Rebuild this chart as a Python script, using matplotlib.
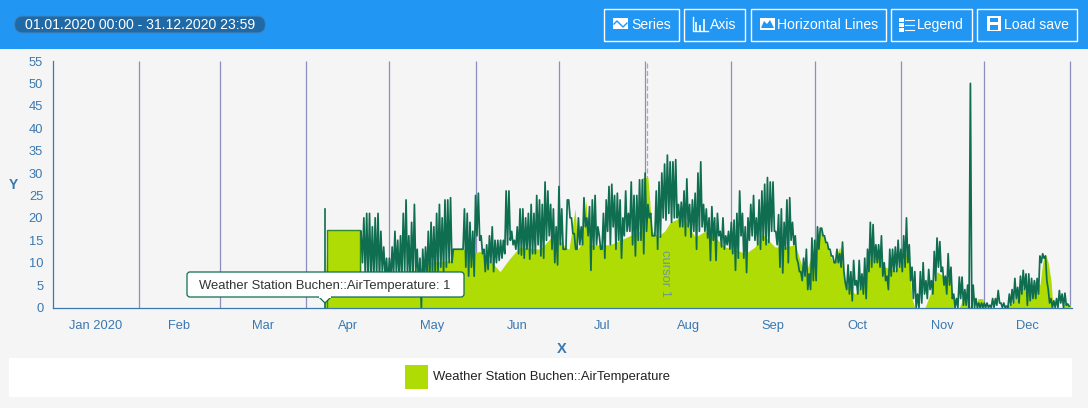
import numpy as np
import matplotlib
matplotlib.use("Agg")
import matplotlib.pyplot as plt
from matplotlib.patches import FancyBboxPatch, Rectangle, Polygon

plt.rcParams["font.family"] = ["Liberation Sans", "DejaVu Sans"]

# =============================
# DATA
# =============================
month_names = ["Jan 2020", "Feb", "Mar", "Apr", "May", "Jun", "Jul", "Aug", "Sep", "Oct", "Nov", "Dec"]
month_days = [31, 29, 31, 30, 31, 30, 31, 31, 30, 31, 30, 31]
y_ticks = [0, 5, 10, 15, 20, 25, 30, 35, 40, 45, 50, 55]

# first readings of the station: one spike, then a flat stretch
spike_days = [97.8, 97.8]
spike_vals = [0, 22]
flat_days = [98.4, 98.4, 110.4, 110.4]
flat_vals = [0, 17.2, 17.2, 8]

# highs and lows per day, month by month (April starts on the 21st)
apr_start = 110.8
apr_hi = [17, 20, 21, 21, 18, 20, 21, 17, 13.5, 11]
apr_lo = [10, 7, 6, 7, 6, 7, 6, 8, 7, 5]
may_hi = [11, 13.5, 17, 15, 16, 21, 24, 16, 19, 23, 13, 11, 13, 13.5, 17, 19, 18, 21, 23, 20, 24, 24, 24.5, 13, 13, 13, 13, 22, 21, 19, 17]
may_lo = [6, 7, 8, 6, 7, 8, 7, 6, 7, 8, 5, 0, 6, 7, 6, 8, 7, 8, 9, 8, 9, 10, 10, 13, 13, 13, 13, 9, 7, 9, 7]
jun_hi = [25, 25.5, 16, 13, 14, 16, 18, 15, 15, 15, 15, 26, 26, 17, 15, 18, 22, 22, 20, 21, 23, 21, 25, 24, 23, 28, 26, 23, 22, 18]
jun_lo = [16, 15, 12, 8, 8.5, 10, 8, 10, 10.5, 11, 12, 14, 15, 14, 13, 12, 11.7, 11, 13, 10.8, 12, 12, 14, 11.5, 11, 15, 16, 13, 10, 9.5]
jul_hi = [27, 22, 13, 24, 20, 16.5, 13, 20, 18, 24.5, 20, 22.5, 24, 25, 18, 13, 21, 24, 27, 27.5, 25, 25.5, 24, 20, 26, 21, 28, 25, 25, 28.5, 28.5]
jul_lo = [14, 13, 13, 24, 20, 16.5, 13, 14, 14, 18, 16, 8.3, 13, 14, 16, 13, 11, 17, 14, 18, 13, 15, 11, 16, 17, 17, 14, 11.5, 15, 15, 12]
aug_hi = [30, 23, 21, 16, 26, 28, 30, 32, 34, 32.5, 32.5, 33, 23, 23.5, 26, 28.7, 23, 24, 25.5, 30, 32.5, 23, 22, 20, 22.5, 20, 21, 17, 20, 16, 17]
aug_lo = [17, 20, 16, 16, 13, 15.7, 20, 19.5, 21, 19, 20, 20, 18, 18, 16, 18, 15.7, 17, 13, 17, 18, 17, 15.5, 10.5, 15, 10.5, 16, 13.5, 13, 14, 13]
sep_hi = [19, 19.5, 21, 26, 21, 18, 20, 23, 25, 20, 24, 26, 27.5, 29, 28, 28, 17, 20.7, 22, 19, 24, 24.5, 19, 16, 10, 8, 11, 13, 7.5, 15.5]
sep_lo = [12, 8.3, 11, 16, 11, 7.8, 15, 16, 15, 14, 13, 15, 14, 14.5, 17, 17, 14, 9, 7.7, 13, 10, 15, 14, 11, 8, 6, 7, 4, 4, 6]
oct_hi = [15, 18, 17.7, 16, 14.5, 13, 11.5, 10, 13, 12, 14.6, 5.5, 9.5, 8, 10.5, 6, 10.5, 7.5, 11, 13, 19, 18.5, 14, 14, 16, 10, 7, 13, 13, 13.5, 15]
oct_lo = [6, 13, 17.7, 16, 14.5, 13, 11.5, 10, 10, 9, 8, 4, 3, 1.5, 5, 3, 4, 3, 2, 8, 9, 10, 10, 9, 7, 6, 4, 7, 8, 8, 9]
nov_hi = [13, 16, 20, 14, 9, 8, 3, 8, 10, 6, 8.5, 6, 12.5, 15.5, 14.7, 9, 7, 12, 9, 3, 2, 6.8, 6.8, 4, 5, 50, 5, 2, 1, 1]
nov_lo = [8, 9, 10, 6, 2, 0, 0, 1, 3, 2, 4, 3, 6, 9, 8, 5, 3, 5, 2, 0, 0, 2, 0.5, 0.5, 0, 0, 0, 0, 0, 0]
dec_hi = [1, 1, 0.5, 2, 2, 3.8, 1, 1, 0.3, 3, 4, 6.5, 4.5, 7, 8.3, 7.5, 7.5, 6.5, 6, 6.5, 11.5, 12, 11.5, 4, 2, 1.5, 2, 3.8, 3, 3.2, 0.8]
dec_lo = [0, 0, 0, 0, 0.5, 1, 0, 0, 0, 0.5, 1, 2, 1, 3, 4, 0.5, 1.5, 2, 2, 3, 10, 11, 6, 1, 0, 0, 0, 1, 0, 0.5, 0.3]

# top of the filled area
fill_days = [97.8, 98.6, 110.4, 110.8, 119.4, 121.2, 124.8, 132, 133.8, 142.8, 143.5, 148.6, 150, 153.6, 157.2,
             160.8, 164.4, 168, 175.2, 180.6, 184.2, 185.6, 187.8, 188.8, 190.6, 191.7, 192.8, 200.4, 207.5, 211,
             212, 214, 215.5, 217.6, 220, 222, 225.5, 227.3, 231, 234.5, 238, 241.7, 245.3, 249, 252.5,
             255, 259.7, 263.3, 267, 270.5, 273, 276, 280.6, 283, 285, 288.5, 292, 295, 299.3, 303,
             306.5, 307.5, 309, 310, 313.7, 315.5, 318, 322.7, 324.5, 326, 328, 330, 332, 332.7, 334.5,
             335, 342.4, 345, 346, 348.6, 351.4, 353, 355, 356, 357, 358, 359, 359.7, 363, 364, 366]
fill_vals = [0, 17.2, 17.2, 8, 8, 7, 8, 8.5, 10, 10.5, 13, 13, 12, 12.5, 10.5,
             8, 11, 13.5, 13, 16.5, 13.5, 13, 22, 13, 15, 24, 14, 14, 16, 17,
             29, 29, 17, 16, 17, 19, 20, 19.5, 15.7, 17, 15.7, 13.5, 13, 12, 13.5,
             16.5, 13.5, 13.5, 14, 7, 12, 17.7, 10, 13.5, 5.4, 3, 6, 13.5, 9, 8.3,
             11, 14, 2, 0, 0, 3, 8, 6, 0, 0, 3, 0, 0, 2, 2,
             0, 0, 1, 2, 4.5, 3, 6, 5, 10, 12, 10, 6, 0, 0, 1, 0.5]

HEADER = "#2196f3"
BG = "#f5f5f5"
BLUE = "#3a78b0"
LIME = "#aedc04"
DARK = "#0f6d50"
EDGE = "#2f8a2a"

# =============================
# CHART
# =============================
fig = plt.figure(figsize=(10.88, 4.08), dpi=100, facecolor=BG)
ax = fig.add_axes([53 / 1088, (408 - 307.5) / 408, (1072 - 53) / 1088, (307.5 - 61) / 408])
ax.set_facecolor("none")

month_ends = np.cumsum(month_days)
month_starts = month_ends - np.array(month_days)
month_mids = month_starts + np.array(month_days) / 2


def zigzag(start, end, hi, lo):
    # one high and one low per day
    days = np.linspace(start, end, len(hi), endpoint=False)
    step = (end - start) / len(hi)
    xs = np.column_stack([days, days + step / 2]).ravel()
    ys = np.column_stack([hi, lo]).ravel()
    return xs, ys


segments = [
    (apr_start, month_ends[3], apr_hi, apr_lo),
    (month_starts[4], month_ends[4], may_hi, may_lo),
    (month_starts[5], month_ends[5], jun_hi, jun_lo),
    (month_starts[6], month_ends[6], jul_hi, jul_lo),
    (month_starts[7], month_ends[7], aug_hi, aug_lo),
    (month_starts[8], month_ends[8], sep_hi, sep_lo),
    (month_starts[9], month_ends[9], oct_hi, oct_lo),
    (month_starts[10], month_ends[10], nov_hi, nov_lo),
    (month_starts[11], month_ends[11], dec_hi, dec_lo),
]
line_x = []
line_y = []
for seg in segments:
    sx, sy = zigzag(*seg)
    line_x.append(sx)
    line_y.append(sy)
line_x = np.concatenate(line_x)
line_y = np.concatenate(line_y)

ax.vlines(month_ends, 0, 55, color="#8a8fc0", lw=0.9, zorder=1)
ax.vlines(213.8, 0, 55, color="#a9a9c6", lw=0.9, linestyles=(0, (4, 2)), zorder=1)

ax.fill_between(fill_days, fill_vals, 0, color=LIME, lw=0, zorder=2)
ax.plot(spike_days, spike_vals, color=DARK, lw=1.2, zorder=4)
ax.plot(flat_days, flat_vals, color=EDGE, lw=1.0, zorder=4)
ax.plot(line_x, line_y, color=DARK, lw=1.25, zorder=4, solid_joinstyle="round")

ax.text(220.3, 7.6, "cursor 1", rotation=270, color="#6f9a8a", fontsize=9.4, ha="center", va="center", zorder=5)

ax.set_xlim(0, (1072 - 53) / 2.78)
ax.set_ylim(0, 55)
ax.set_xticks(month_mids)
ax.set_xticklabels(month_names, color=BLUE, fontsize=9.3)
ax.set_yticks(y_ticks)
ax.set_yticklabels(y_ticks, color=BLUE, fontsize=9.3)
ax.tick_params(axis="x", length=0, pad=9)
ax.tick_params(axis="y", length=0, pad=7)
for side in ["top", "right"]:
    ax.spines[side].set_visible(False)
for side in ["left", "bottom"]:
    ax.spines[side].set_color(BLUE)
    ax.spines[side].set_linewidth(0.9)

# =============================
# PAGE AROUND THE CHART (pixel coordinates)
# =============================
ui = fig.add_axes([0, 0, 1, 1], zorder=5)
ui.set_xlim(0, 1088)
ui.set_ylim(408, 0)
ui.axis("off")
ui.patch.set_visible(False)

ui.add_patch(Rectangle((0, 0), 1088, 49, color=HEADER, lw=0))
ui.add_patch(FancyBboxPatch((14.5, 16), 251, 17, boxstyle="round,pad=0,rounding_size=8.5",
                            fc="#1f69a6", ec="#3c86c4", lw=0.8))
ui.text(140, 25, "01.01.2020 00:00 - 31.12.2020 23:59", color="white", fontsize=10.1,
        ha="center", va="center")

buttons = [
    (604, 679, "Series", 631),
    (684, 745, "Axis", 710),
    (750.5, 886, "Horizontal Lines", 777),
    (891, 972, "Legend", 917),
    (977, 1077, "Load save", 1004),
]
for x0, x1, label, tx in buttons:
    ui.add_patch(Rectangle((x0, 8.5), x1 - x0, 32.5, fc="none", ec="white", lw=1))
    ui.text(tx, 25, label, color="white", fontsize=10.1, ha="left", va="center")

# button icons
ui.add_patch(Rectangle((613, 18), 15, 11, fc="white", ec="none"))
ui.plot([614, 617, 620, 623, 627], [24, 21, 24, 27, 23], color=HEADER, lw=1)
ui.plot([693, 693, 708], [17, 31, 31], color="white", lw=1)
ui.vlines([696, 700, 704], [22, 25, 19], [31, 31, 31], color="white", lw=1.2)
ui.add_patch(Rectangle((760, 18), 15, 12, fc="white", ec="none"))
ui.add_patch(Polygon([(761, 28), (764, 21), (767, 24), (770, 20), (774, 28)], fc=HEADER, ec="none"))
for yy in [18, 23, 28]:
    ui.add_patch(Rectangle((899, yy), 5, 3.5, fc="white", ec="none"))
    ui.plot([905, 914], [yy + 1.7, yy + 1.7], color="white", lw=0.8)
ui.add_patch(Rectangle((987, 16), 14, 15, fc="white", ec="none"))
ui.add_patch(Rectangle((990, 17.5), 8, 4.5, fc=HEADER, ec="none"))
ui.add_patch(Rectangle((990, 25), 8, 5, fc=HEADER, ec="none"))

ui.text(13, 185, "Y", color=BLUE, fontsize=10, fontweight="bold", ha="center", va="center")
ui.text(562, 349, "X", color=BLUE, fontsize=10.5, fontweight="bold", ha="center", va="center")

# legend
ui.add_patch(Rectangle((9, 358), 1063, 39, fc="white", ec="none"))
ui.add_patch(Rectangle((405, 365), 23, 24, fc=LIME, ec="none"))
ui.text(433, 377, "Weather Station Buchen::AirTemperature", color="#222222", fontsize=9.4,
        ha="left", va="center")

# tooltip
ui.add_patch(Polygon([(318, 296), (325, 303), (332, 296)], fc="white", ec=DARK, lw=0.9, zorder=6))
ui.add_patch(FancyBboxPatch((187, 272), 277, 25, boxstyle="round,pad=0,rounding_size=3",
                            fc="white", ec=DARK, lw=0.9, zorder=6))
ui.add_patch(Rectangle((319, 295), 12, 2.5, fc="white", ec="none", zorder=7))
ui.text(199, 285.5, "Weather Station Buchen::AirTemperature: 1", color="#333333", fontsize=9.4,
        ha="left", va="center", zorder=8)

plt.savefig("out.png", dpi=100)
plt.close()
